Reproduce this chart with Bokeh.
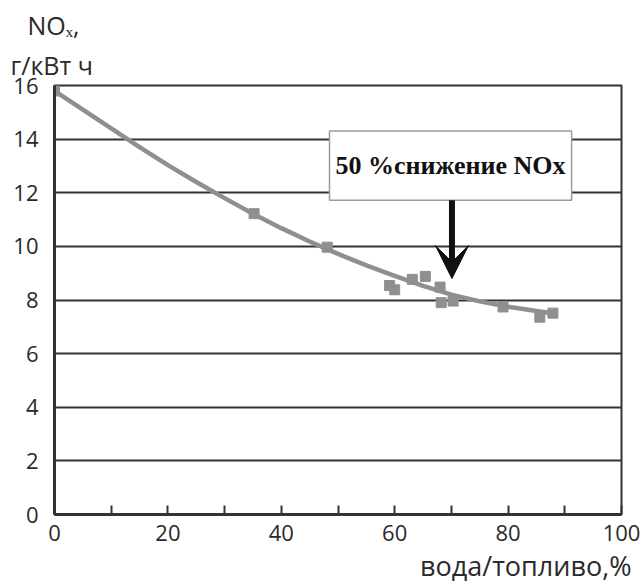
from bokeh.plotting import figure
from bokeh.models import Range1d, FixedTicker, BoxAnnotation, Label, Arrow, VeeHead, Title
from bokeh.embed import file_html
from bokeh.resources import INLINE

# data
water_fuel = [0, 35.2, 48.1, 59.1, 60.0, 63.1, 65.4, 68.0, 68.2, 70.3, 79.1, 85.6, 87.9]
nox = [15.8, 11.22, 9.97, 8.54, 8.38, 8.77, 8.88, 8.48, 7.9, 7.96, 7.74, 7.36, 7.51]

# trend line
trend_x = [0, 5, 10, 15, 20, 25, 30, 35, 40, 45, 50, 55, 60, 65, 70, 75, 80, 85, 88]
trend_y = [15.8, 15.1, 14.4, 13.7, 13.03, 12.4, 11.8, 11.22, 10.68, 10.18, 9.72,
           9.29, 8.9, 8.53, 8.2, 7.95, 7.75, 7.59, 7.5]

x_ticks = [0, 20, 40, 60, 80, 100]
x_minor = [10, 30, 50, 70, 90]
y_ticks = [0, 2, 4, 6, 8, 10, 12, 14, 16]
grid_lines = [2, 4, 6, 8, 10, 12, 14]

annotation_text = "50 %снижение NOx"
x_title = "вода/топливо,%"
y_title_main = "NO\u2093,"
y_title_unit = "г/кВт ч"

DARK = "#333333"
GRAY = "#8f8f8f"
TXT = "#2a2a2a"
FONT = "Open Sans"

p = figure(width=643, height=585, output_backend="svg", toolbar_location=None,
           x_range=Range1d(0, 100), y_range=Range1d(0, 16),
           min_border_left=54, min_border_right=22, min_border_top=85, min_border_bottom=71)
p.background_fill_color = "white"
p.border_fill_color = "white"
p.outline_line_color = DARK
p.outline_line_width = 2

# grid
p.xgrid.visible = False
p.ygrid.ticker = FixedTicker(ticks=grid_lines)
p.ygrid.grid_line_color = DARK
p.ygrid.grid_line_width = 2

# x axis
p.xaxis.ticker = FixedTicker(ticks=x_ticks, minor_ticks=x_minor)
p.xaxis.axis_line_color = DARK
p.xaxis.axis_line_width = 3
p.xaxis.major_tick_in = 9
p.xaxis.major_tick_out = 0
p.xaxis.minor_tick_in = 9
p.xaxis.minor_tick_out = 0
p.xaxis.major_tick_line_width = 2
p.xaxis.minor_tick_line_width = 2
p.xaxis.major_tick_line_color = DARK
p.xaxis.minor_tick_line_color = DARK
p.xaxis.major_label_text_font = FONT
p.xaxis.major_label_text_font_size = "22px"
p.xaxis.major_label_text_color = TXT
p.xaxis.major_label_standoff = 10

# y axis
p.yaxis.ticker = FixedTicker(ticks=y_ticks)
p.yaxis.axis_line_color = DARK
p.yaxis.axis_line_width = 3
p.yaxis.major_tick_in = 0
p.yaxis.major_tick_out = 0
p.yaxis.minor_tick_in = 0
p.yaxis.minor_tick_out = 0
p.yaxis.major_label_text_font = FONT
p.yaxis.major_label_text_font_size = "22px"
p.yaxis.major_label_text_color = TXT
p.yaxis.major_label_standoff = 16

# trend line and data
p.line(trend_x, trend_y, line_color=GRAY, line_width=4.5, line_join="round")
p.scatter(water_fuel, nox, marker="square", size=10, fill_color=GRAY, line_color=GRAY)

# annotation box
box = BoxAnnotation(left=48.5, right=91.2, top=14.3, bottom=11.72,
                    fill_color="white", fill_alpha=1.0,
                    line_color="#9a9a9a", line_width=1.5, line_alpha=1.0)
p.add_layout(box)
p.add_layout(Label(x=69.85, y=13.02, text=annotation_text, text_align="center",
                   text_baseline="middle", text_font="Liberation Serif",
                   text_font_style="bold", text_font_size="26px", text_color="#111111"))

# arrow
p.add_layout(Arrow(x_start=70.1, y_start=11.72, x_end=70.1, y_end=8.8,
                   line_color="#111111", line_width=6,
                   end=VeeHead(size=33, fill_color="#111111", line_color="#111111")))

# titles
p.add_layout(Title(text=y_title_unit, align="left", offset=-44, standoff=8,
                   text_font=FONT, text_font_size="25px", text_color=TXT,
                   text_font_style="normal"), "above")
p.add_layout(Title(text=y_title_main, align="left", offset=-27, standoff=0,
                   text_font=FONT, text_font_size="25px", text_color=TXT,
                   text_font_style="normal"), "above")
p.add_layout(Title(text=x_title, align="right", offset=-10, standoff=2,
                   text_font=FONT, text_font_size="27px", text_color=TXT,
                   text_font_style="normal"), "below")

open("out.html", "w").write(file_html(p, INLINE))
